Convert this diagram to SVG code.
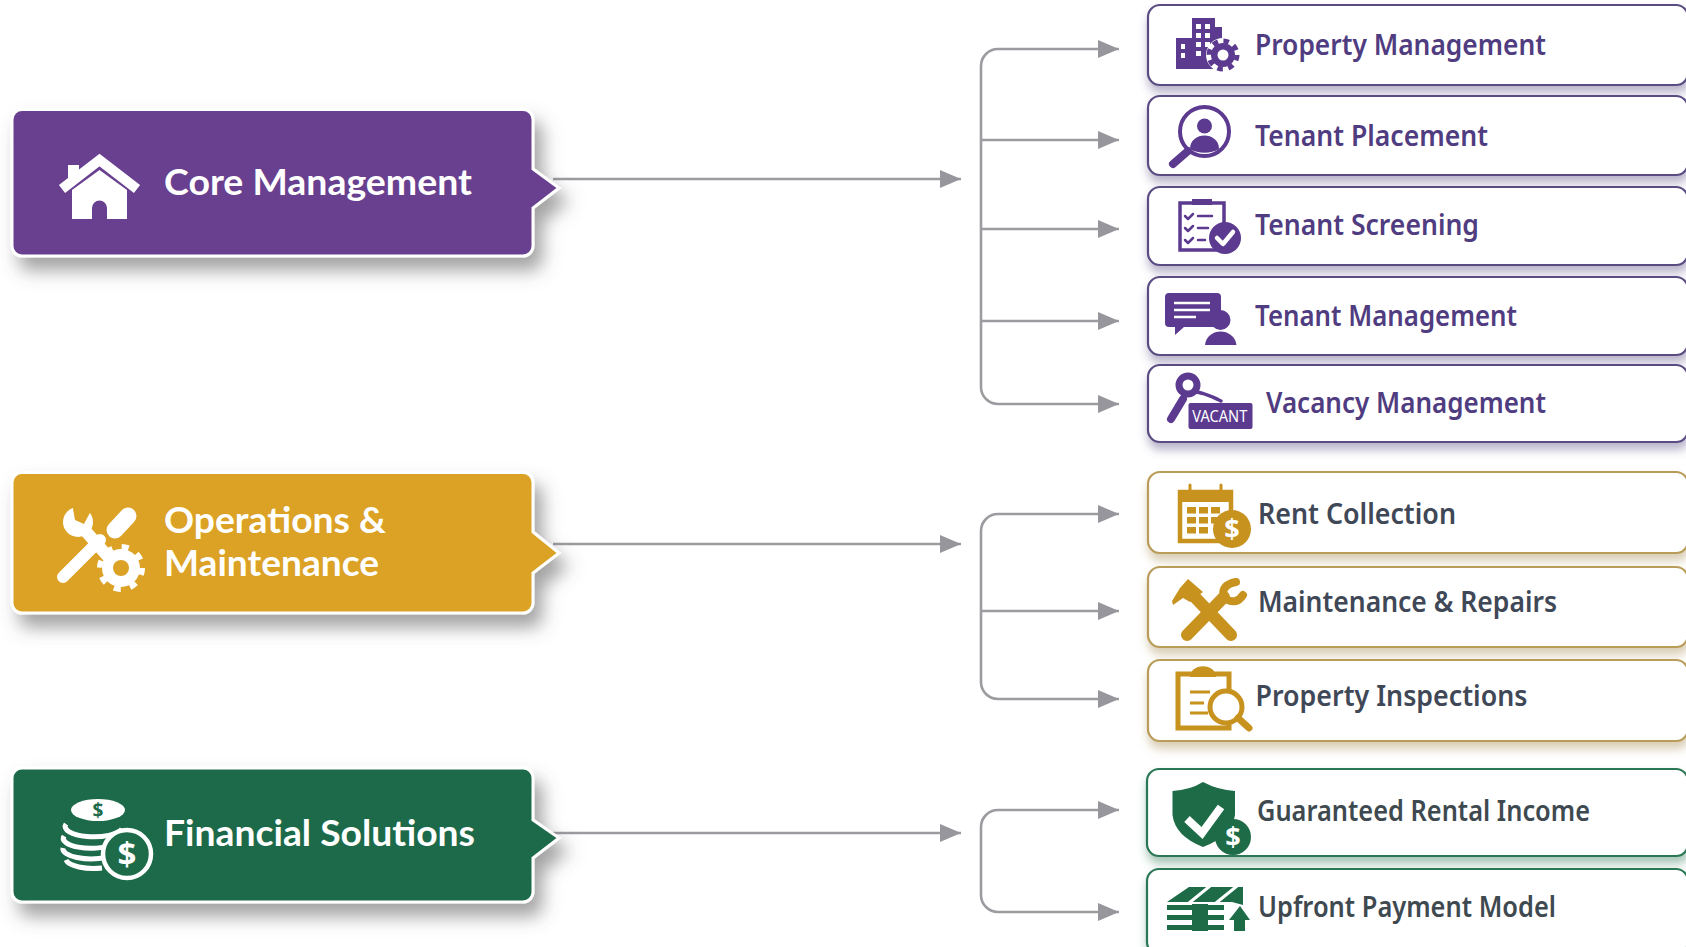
<svg xmlns="http://www.w3.org/2000/svg" width="1686" height="947" viewBox="0 0 1686 947">
<style>
text{font-family:"Noto Sans","Open Sans","Liberation Sans",sans-serif}
.cat{font-family:Lato,"Noto Sans",sans-serif;font-size:35.5px;font-weight:700;fill:#fff}
.sub{font-size:28px;font-weight:600}
.p{fill:#503c80}.d{fill:#404857}.g{fill:#3e4a50}
.card{fill:#fff;stroke-width:2.2}
.cp{stroke:#5a4c82;filter:url(#sp)}.cd{stroke:#b89c58;filter:url(#sd)}.cg{stroke:#2c7757;filter:url(#sg)}
.main{stroke:#fff;stroke-width:3;filter:url(#sm)}
.ln{fill:none;stroke:#9b9ba0;stroke-width:2.6}
.ip{fill:#5b3a90;stroke:none}.sp{fill:none;stroke:#5b3a90}
.id{fill:#c8921f;stroke:none}.sd{fill:none;stroke:#c8921f}
.ig{fill:#1d6b47;stroke:none}.sg{fill:none;stroke:#1d6b47}
.w{fill:#fff;stroke:none}.sw{fill:none;stroke:#fff}
.r{stroke-linecap:round;stroke-linejoin:round}
</style>
<defs>
<filter id="sm" x="-10%" y="-20%" width="125%" height="160%"><feDropShadow dx="8" dy="13" stdDeviation="9" flood-color="#555" flood-opacity=".55"/></filter>
<filter id="sp" x="-5%" y="-20%" width="110%" height="150%"><feDropShadow dx="1" dy="7" stdDeviation="5" flood-color="#5a4c82" flood-opacity=".42"/></filter>
<filter id="sd" x="-5%" y="-20%" width="110%" height="150%"><feDropShadow dx="1" dy="7" stdDeviation="5" flood-color="#a58a50" flood-opacity=".42"/></filter>
<filter id="sg" x="-5%" y="-20%" width="110%" height="150%"><feDropShadow dx="1" dy="7" stdDeviation="5" flood-color="#2c7757" flood-opacity=".42"/></filter>
<marker id="ah" markerUnits="userSpaceOnUse" markerWidth="22" markerHeight="18" refX="21" refY="9" orient="auto-start-reverse"><path d="M0 0L21 9L0 18Z" fill="#96969c"/></marker>
</defs>
<rect width="1686" height="947" fill="#fff"/>

<g id="connectors">
<path class="ln" d="M553 179H961" marker-end="url(#ah)"/>
<path class="ln" d="M1119 49H998a17 17 0 0 0-17 17V387a17 17 0 0 0 17 17H1119" marker-start="url(#ah)" marker-end="url(#ah)"/>
<path class="ln" d="M981 140H1119" marker-end="url(#ah)"/>
<path class="ln" d="M981 229H1119" marker-end="url(#ah)"/>
<path class="ln" d="M981 321H1119" marker-end="url(#ah)"/>
<path class="ln" d="M553 544H961" marker-end="url(#ah)"/>
<path class="ln" d="M1119 514H998a17 17 0 0 0-17 17V682a17 17 0 0 0 17 17H1119" marker-start="url(#ah)" marker-end="url(#ah)"/>
<path class="ln" d="M981 611H1119" marker-end="url(#ah)"/>
<path class="ln" d="M553 833H961" marker-end="url(#ah)"/>
<path class="ln" d="M1119 810H998a17 17 0 0 0-17 17V895a17 17 0 0 0 17 17H1119" marker-start="url(#ah)" marker-end="url(#ah)"/>
</g>

<g id="core-management">
<path class="main" fill="#67408f" d="M22 109.500H523a10 10 0 0 1 10 10V169L559 188L533 208V246a10 10 0 0 1-10 10H22a10 10 0 0 1-10-10V119.500a10 10 0 0 1 10-10Z"/>
<rect class="w" x="68" y="165" width="11" height="16"/>
<path class="sw" stroke-width="10" d="M62 189L99.500 160L137 189"/>
<path class="w" d="M72 190L99.500 170L127 190V219H107V208a7.500 7.500 0 0 0-15 0V219H72Z"/>
<text class="cat" x="164" y="195" textLength="308" lengthAdjust="spacingAndGlyphs">Core Management</text>
</g>

<g id="operations-maintenance">
<path class="main" fill="#dba225" d="M22 472.500H523a10 10 0 0 1 10 10V532L559 553L533 573V603a10 10 0 0 1-10 10H22a10 10 0 0 1-10-10V482.500a10 10 0 0 1 10-10Z"/>
<path class="sw r" stroke-width="12" d="M63 577L100 540"/>
<path class="sw r" stroke-width="17" d="M115 530L128 516"/>
<path class="sw" stroke-width="12" d="M82 527L118 568"/>
<circle class="w" cx="78" cy="522" r="15"/>
<path d="M72 503L93 507L84 524L75 520Z" fill="#dba225"/>
<circle class="w" cx="121" cy="568" r="19"/>
<circle cx="121" cy="568" r="21" fill="none" stroke="#fff" stroke-width="6" stroke-dasharray="7 9.500"/>
<circle cx="121" cy="568" r="8" fill="#dba225"/>
<text class="cat" x="164" y="533" textLength="222" lengthAdjust="spacingAndGlyphs">Operations &amp;</text>
<text class="cat" x="164" y="576" textLength="215" lengthAdjust="spacingAndGlyphs">Maintenance</text>
</g>

<g id="financial-solutions">
<path class="main" fill="#1d6b48" d="M22 768H523a10 10 0 0 1 10 10V820L559 838L533 858V892a10 10 0 0 1-10 10H22a10 10 0 0 1-10-10V778a10 10 0 0 1 10-10Z"/>
<g class="sw" stroke-width="5">
<path d="M66 824a28 10 0 0 0 56 5"/>
<path d="M64 836a28 10 0 0 0 48 9"/>
<path d="M63 848a28 10 0 0 0 44 9"/>
<path d="M66 860a28 10 0 0 0 36 8"/>
</g>
<ellipse class="w" cx="98" cy="810" rx="27" ry="11"/>
<text x="98" y="817" text-anchor="middle" font-size="19" font-weight="700" fill="#1d6b48">$</text>
<circle cx="127" cy="854" r="24" fill="#1d6b48" stroke="#fff" stroke-width="4.500"/>
<text x="127" y="866" text-anchor="middle" font-size="33" font-weight="700" fill="#fff">$</text>
<text class="cat" x="164" y="846" textLength="311" lengthAdjust="spacingAndGlyphs">Financial Solutions</text>
</g>

<g id="property-management">
<rect class="card cp" x="1148" y="5" width="540" height="80" rx="12"/>
<path class="ip" d="M1192 18H1215V27H1222V42H1215V69H1176V38H1192Z"/>
<g class="w"><rect x="1196" y="24" width="5" height="5"/><rect x="1205" y="24" width="5" height="5"/><rect x="1196" y="33" width="5" height="5"/><rect x="1205" y="33" width="5" height="5"/><rect x="1196" y="42" width="5" height="5"/><rect x="1205" y="42" width="5" height="5"/><rect x="1196" y="51" width="5" height="5"/><rect x="1181" y="44" width="4" height="5"/><rect x="1181" y="53" width="4" height="5"/></g>
<circle cx="1223" cy="55" r="17" class="w"/>
<circle cx="1223" cy="55" r="12" class="ip"/>
<circle cx="1223" cy="55" r="14" fill="none" stroke="#5b3a90" stroke-width="5" stroke-dasharray="5.500 5.500"/>
<circle cx="1223" cy="55" r="5.500" class="w"/>
<text class="sub p" x="1255" y="55" textLength="291" lengthAdjust="spacingAndGlyphs">Property Management</text>
</g>

<g id="tenant-placement">
<rect class="card cp" x="1148" y="96" width="540" height="79" rx="12"/>
<circle class="sp" cx="1204.500" cy="131.500" r="24.500" stroke-width="4"/>
<circle class="ip" cx="1204.500" cy="126" r="7.500"/>
<path class="ip" d="M1190 149c0-18 29-18 29 0c-8 5-21 5-29 0Z"/>
<path class="sp r" stroke-width="8" d="M1188 151L1173 164"/>
<text class="sub p" x="1255" y="146" textLength="233" lengthAdjust="spacingAndGlyphs">Tenant Placement</text>
</g>

<g id="tenant-screening">
<rect class="card cp" x="1148" y="187" width="540" height="78" rx="12"/>
<rect class="sp" x="1180" y="203" width="44" height="47" stroke-width="3.500"/>
<rect class="ip" x="1192" y="199" width="20" height="6"/>
<g class="sp r" stroke-width="2.500"><path d="M1185 216l3 3l5-5M1185 228l3 3l5-5M1185 240l3 3l5-5"/><path d="M1198 216H1212M1198 228H1208M1198 240H1205"/></g>
<circle class="ip" cx="1225" cy="238" r="16" stroke="#fff" stroke-width="2"/>
<path class="sw r" stroke-width="4.500" d="M1217 238l6 6l10-12"/>
<text class="sub p" x="1255" y="235" textLength="224" lengthAdjust="spacingAndGlyphs">Tenant Screening</text>
</g>

<g id="tenant-management">
<rect class="card cp" x="1148" y="277" width="540" height="78" rx="12"/>
<path class="ip" d="M1169 293H1217a4 4 0 0 1 4 4V323a4 4 0 0 1-4 4H1184L1175 335V327H1169a4 4 0 0 1-4-4V297a4 4 0 0 1 4-4Z"/>
<path class="sw" stroke-width="2.500" d="M1174 303H1210M1174 310H1210M1174 317H1196"/>
<circle class="ip" cx="1220.500" cy="320" r="10" stroke="#fff" stroke-width="2"/>
<path class="ip" d="M1205 345c2-18 29-18 31.500 0Z"/>
<text class="sub p" x="1255" y="326" textLength="262" lengthAdjust="spacingAndGlyphs">Tenant Management</text>
</g>

<g id="vacancy-management">
<rect class="card cp" x="1148" y="365" width="540" height="77" rx="12"/>
<circle class="sp" cx="1188" cy="385" r="9" stroke-width="7"/>
<path class="sp r" stroke-width="8" d="M1183 399L1171 419"/>
<path class="sp r" stroke-width="3.500" stroke-dasharray="6 2" d="M1197 392Q1210 395 1221 401"/>
<rect class="ip" x="1188.500" y="403" width="64" height="26" rx="2"/>
<text x="1219.800" y="422" text-anchor="middle" font-size="16" fill="#fff" textLength="55" lengthAdjust="spacingAndGlyphs">VACANT</text>
<text class="sub p" x="1266" y="413" textLength="280" lengthAdjust="spacingAndGlyphs">Vacancy Management</text>
</g>

<g id="rent-collection">
<rect class="card cd" x="1148" y="472" width="540" height="81" rx="12"/>
<rect class="sd" x="1180" y="492" width="51" height="49" stroke-width="4.500"/>
<rect class="id" x="1180" y="491" width="53" height="11"/>
<path class="sd r" stroke-width="3" d="M1190 485V497M1221 485V497"/>
<g class="id"><rect x="1187" y="507" width="9" height="6.500"/><rect x="1199" y="507" width="9" height="6.500"/><rect x="1211" y="507" width="9" height="6.500"/><rect x="1187" y="517" width="9" height="6.500"/><rect x="1199" y="517" width="9" height="6.500"/><rect x="1211" y="517" width="6" height="6.500"/><rect x="1187" y="527" width="9" height="6.500"/><rect x="1199" y="527" width="9" height="6.500"/></g>
<circle class="id" cx="1232" cy="529" r="19" stroke="#fff" stroke-width="2.500"/>
<text x="1232" y="539" text-anchor="middle" font-size="27" font-weight="700" fill="#fff">$</text>
<text class="sub d" x="1258" y="524" textLength="198" lengthAdjust="spacingAndGlyphs">Rent Collection</text>
</g>

<g id="maintenance-repairs">
<rect class="card cd" x="1148" y="567" width="540" height="80" rx="12"/>
<path class="sd r" stroke-width="12" d="M1188 590L1231 635"/>
<path class="id" d="M1188 579L1203 592L1190 602L1183 598L1173 605L1172 601L1180 588Z"/>
<path class="sd r" stroke-width="12" d="M1187 635L1224 597"/>
<path class="sd r" stroke-width="8" d="M1236 582Q1220 585 1224 598Q1236 606 1243 595"/>
<text class="sub d" x="1258" y="612" textLength="299" lengthAdjust="spacingAndGlyphs">Maintenance &amp; Repairs</text>
</g>

<g id="property-inspections">
<rect class="card cd" x="1148" y="660" width="540" height="81" rx="12"/>
<rect class="sd" x="1178" y="674" width="51" height="54" stroke-width="5"/>
<path class="id" d="M1190 677a12 10 0 0 1 26 0Z"/>
<path class="sd" stroke-width="3" d="M1190 692H1210M1190 703H1204M1190 713H1208"/>
<circle cx="1226" cy="707" r="16" fill="#fff" stroke="#c8921f" stroke-width="5"/>
<path class="sd r" stroke-width="7" d="M1238 718L1249 728"/>
<text class="sub d" x="1255.500" y="706" textLength="272" lengthAdjust="spacingAndGlyphs">Property Inspections</text>
</g>

<g id="guaranteed-rental-income">
<rect class="card cg" x="1147" y="769" width="541" height="87" rx="12"/>
<path class="ig" d="M1203 782Q1218 790 1235 791V815Q1232 836 1203 847Q1175 836 1172.500 815V791Q1190 790 1203 782Z"/>
<path class="sw" stroke-width="8" d="M1187 819L1202 833L1221 807"/>
<circle class="ig" cx="1233" cy="837" r="18" stroke="#fff" stroke-width="2.500"/>
<text x="1233" y="847" text-anchor="middle" font-size="27" font-weight="700" fill="#fff">$</text>
<text class="sub g" x="1257" y="821" textLength="333" lengthAdjust="spacingAndGlyphs">Guaranteed Rental Income</text>
</g>

<g id="upfront-payment-model">
<rect class="card cg" x="1147" y="869" width="541" height="85" rx="12"/>
<path class="ig" d="M1167 902L1189 887H1243L1243 905L1232 902Z"/>
<path class="sw" stroke-width="3" d="M1189 903L1210 886M1216 903L1237 886"/>
<g class="ig"><rect x="1167" y="905" width="57" height="5"/><rect x="1167" y="915" width="57" height="5"/><rect x="1167" y="925" width="57" height="5"/><rect x="1192" y="904" width="16" height="27"/></g>
<path class="ig" d="M1240 906L1250 920H1245V931H1234V920H1229Z"/>
<text class="sub g" x="1258" y="917" textLength="298" lengthAdjust="spacingAndGlyphs">Upfront Payment Model</text>
</g>
</svg>
